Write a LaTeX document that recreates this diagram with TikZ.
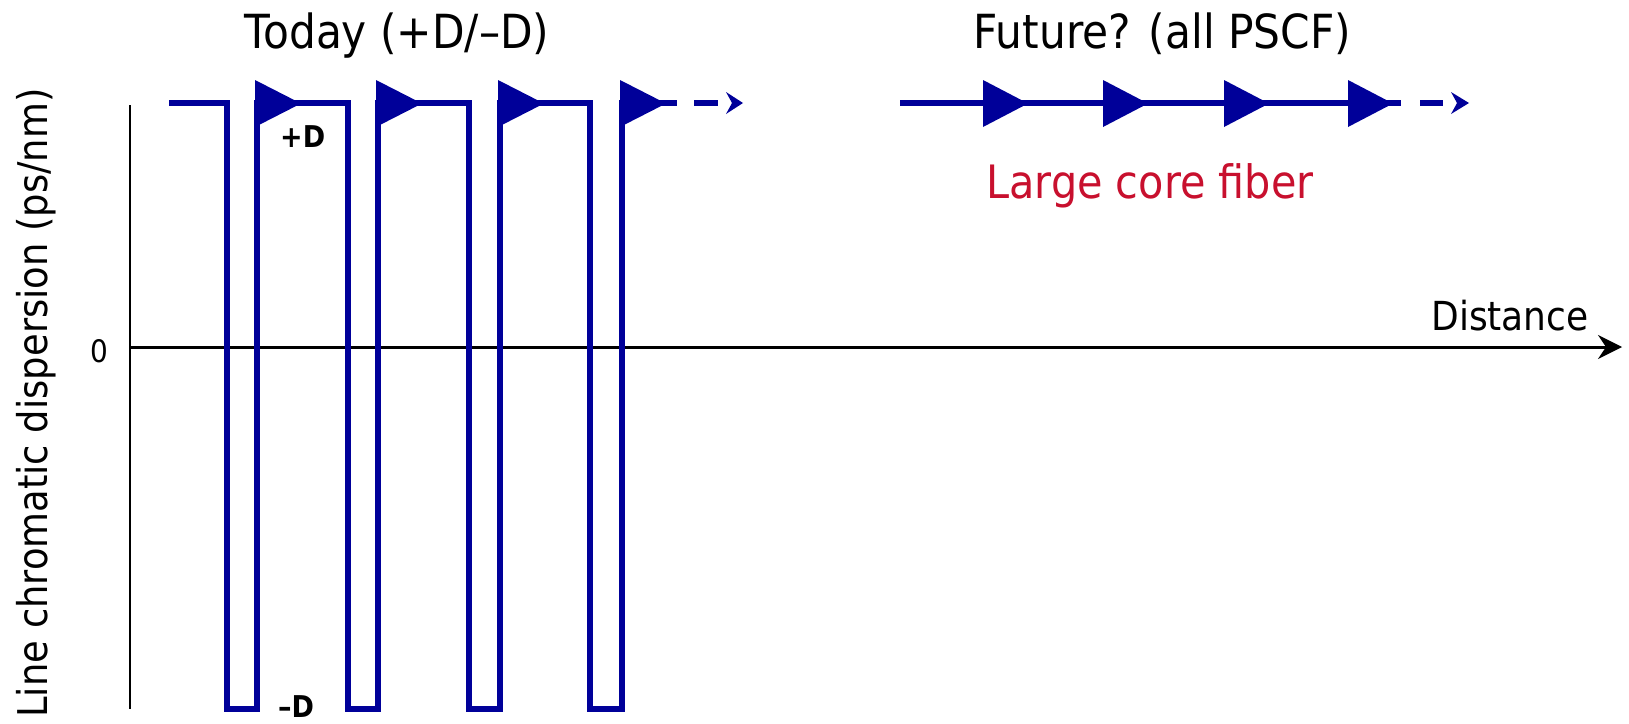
\documentclass[tikz,border=0pt]{standalone}
\usepackage{fontspec}
\setmainfont{DejaVu Sans}[FakeStretch=0.9]
\usetikzlibrary{arrows.meta}
\definecolor{fiberblue}{RGB}{0,0,153}
\definecolor{fiberred}{RGB}{200,16,46}
\begin{document}
\begin{tikzpicture}[x=1pt,y=-1pt,
  axisline/.style={black,line width=3pt},
  wave/.style={fiberblue,line width=5.5pt,line join=miter},
  ampl/.style={fill=fiberblue},
  headfill/.style={fill=fiberblue},
  title/.style={inner sep=0pt,anchor=base,font=\fontsize{47}{50}\selectfont},
  dlabel/.style={inner sep=0pt,anchor=base west,font=\fontsize{30}{32}\selectfont\bfseries}]
\useasboundingbox (0,0) rectangle (1629,723);

% axes
\coordinate (ytop) at (130,105);
\coordinate (ybot) at (130,709);
\coordinate (origin) at (130,347);
\coordinate (xend) at (1622,347);
\draw[black,line width=2.5pt] (ytop) -- (ybot);
\draw[axisline,-{Stealth[length=24pt,width=24pt,inset=8pt]}] (origin) -- (xend);

% today: alternating +D / -D
\coordinate (wstart) at (169,103);
\coordinate (wend) at (677,103);
\draw[wave] (wstart) -- (227,103) -- (227,709) -- (257,709) -- (257,103)
  -- (348,103) -- (348,709) -- (378,709) -- (378,103)
  -- (469,103) -- (469,709) -- (500,709) -- (500,103)
  -- (590,103) -- (590,709) -- (622,709) -- (622,103) -- (wend);
\foreach \x in {255,376,498,620}
  \fill[ampl] (\x,80) -- (\x+46,103.5) -- (\x,127) -- cycle;
\coordinate (d1a) at (694,103);
\coordinate (d1b) at (718,103);
\draw[wave] (d1a) -- (d1b);
\fill[headfill] (726,92) -- (743,103) -- (726,114) -- (732,103) -- cycle;

% future: all PSCF
\coordinate (fstart) at (900,103);
\coordinate (fend) at (1401,103);
\draw[wave] (fstart) -- (fend);
\foreach \x in {983,1103,1224,1348}
  \fill[ampl] (\x,80) -- (\x+45,103.5) -- (\x,127) -- cycle;
\coordinate (d2a) at (1420,103);
\coordinate (d2b) at (1443,103);
\draw[wave] (d2a) -- (d2b);
\fill[headfill] (1451,92) -- (1469,103) -- (1451,114) -- (1457,103) -- cycle;

% texts
\node[title] (today) at (397,48) {Today (+D/–D)};
\node[title] (future) at (1162.5,48) {Future? (all PSCF)};
\node[title,text=fiberred,font=\fontsize{46}{50}\selectfont] (lcf) at (1150,198) {Large core fiber};
\node[title,font=\fontsize{40}{42}\selectfont] (dist) at (1510,330) {Distance};
\node[title,font=\fontsize{31}{33}\selectfont] (zero) at (99,362) {0};
\node[title,font=\fontsize{41}{44}\selectfont,rotate=90] (ylab) at (47,403) {Line chromatic dispersion (ps/nm)};
\node[dlabel] (plusd) at (280,147) {+D};
\node[dlabel] (minusd) at (278,717) {–D};
\end{tikzpicture}
\end{document}
